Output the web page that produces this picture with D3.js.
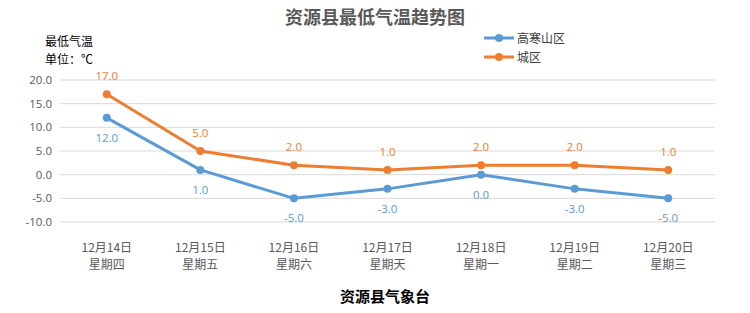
<!DOCTYPE html>
<html>
<head>
<meta charset="utf-8">
<script src="https://cdn.jsdelivr.net/npm/d3@7"></script>
<style>
body { margin: 0; background: #fff; }
svg { display: block; font-family: "Noto Sans CJK SC", "Open Sans", sans-serif; }
</style>
</head>
<body>
<div id="chart"></div>
<script>
var dates = ["12月14日", "12月15日", "12月16日", "12月17日", "12月18日", "12月19日", "12月20日"];
var weekdays = ["星期四", "星期五", "星期六", "星期天", "星期一", "星期二", "星期三"];
var mountain = [12, 1, -5, -3, 0, -3, -5];
var city = [17, 5, 2, 1, 2, 2, 1];
var yTicks = [20, 15, 10, 5, 0, -5, -10];

var width = 750, height = 313;
var blue = "#5b9bd5", orange = "#ed7d31";

var svg = d3.select("#chart").append("svg")
	.attr("width", width)
	.attr("height", height);

var x = d3.scaleBand().domain(dates).range([60, 715]);
var y = d3.scaleLinear().domain([-10, 20]).range([222, 80]);

// grid
svg.append("g").selectAll("line")
	.data(yTicks)
	.join("line")
	.attr("x1", 60)
	.attr("x2", 715)
	.attr("y1", function(d){ return y(d); })
	.attr("y2", function(d){ return y(d); })
	.attr("stroke", "#d9d9d9")
	.attr("stroke-width", 1);

// y ticks
svg.append("g").selectAll("text")
	.data(yTicks)
	.join("text")
	.attr("x", 52)
	.attr("y", function(d){ return y(d) + 4; })
	.attr("text-anchor", "end")
	.attr("font-size", 11.5)
	.attr("font-family", "Open Sans, sans-serif")
	.attr("fill", "#595959")
	.text(function(d){ return d.toFixed(1); });

// x labels
var xl = svg.append("g").selectAll("g")
	.data(dates)
	.join("g")
	.attr("transform", function(d){ return "translate(" + (x(d) + x.bandwidth()/2) + ",0)"; });
xl.append("text")
	.attr("y", 252)
	.attr("text-anchor", "middle")
	.attr("font-size", 12)
	.attr("fill", "#595959")
	.text(function(d){ return d; });
xl.append("text")
	.attr("y", 269)
	.attr("text-anchor", "middle")
	.attr("font-size", 12)
	.attr("fill", "#595959")
	.text(function(d, i){ return weekdays[i]; });

var cx = function(d, i){ return x(dates[i]) + x.bandwidth()/2; };
var line = d3.line().x(cx).y(function(d){ return y(d); });

//series
function drawSeries(vals, color, above) {
	svg.append("path")
		.datum(vals)
		.attr("d", line)
		.attr("fill", "none")
		.attr("stroke", color)
		.attr("stroke-width", 3)
		.attr("stroke-linejoin", "round");
	svg.append("g").selectAll("circle")
		.data(vals)
		.join("circle")
		.attr("cx", cx)
		.attr("cy", function(d){ return y(d); })
		.attr("r", 4)
		.attr("fill", color);
	svg.append("g").selectAll("text")
		.data(vals)
		.join("text")
		.attr("x", cx)
		.attr("y", function(d){ return above ? y(d) - 14 : y(d) + 24; })
		.attr("text-anchor", "middle")
		.attr("font-size", 11.5)
		.attr("font-family", "Open Sans, sans-serif")
		.attr("fill", color)
		.text(function(d){ return d.toFixed(1); });
}
drawSeries(mountain, blue, false);
drawSeries(city, orange, true);

// title
svg.append("text")
	.attr("x", 375)
	.attr("y", 24)
	.attr("text-anchor", "middle")
	.attr("font-size", 18)
	.attr("font-weight", "bold")
	.attr("fill", "#595959")
	.text("资源县最低气温趋势图");

svg.append("text")
	.attr("x", 45).attr("y", 46)
	.attr("font-size", 12)
	.attr("fill", "#000")
	.text("最低气温");
svg.append("text")
	.attr("x", 45).attr("y", 64)
	.attr("font-size", 12)
	.attr("fill", "#000")
	.text("单位：℃");

// legend
var legend = [["高寒山区", blue], ["城区", orange]];
var lg = svg.append("g").selectAll("g")
	.data(legend)
	.join("g")
	.attr("transform", function(d, i){ return "translate(484," + (38 + i * 19) + ")"; });
lg.append("line")
	.attr("x1", 0).attr("x2", 30)
	.attr("stroke", function(d){ return d[1]; })
	.attr("stroke-width", 3);
lg.append("circle")
	.attr("cx", 15).attr("r", 4)
	.attr("fill", function(d){ return d[1]; });
lg.append("text")
	.attr("x", 33).attr("y", 5)
	.attr("font-size", 12)
	.attr("fill", "#404040")
	.text(function(d){ return d[0]; });

// footer
svg.append("text")
	.attr("x", 385)
	.attr("y", 302)
	.attr("text-anchor", "middle")
	.attr("font-size", 15)
	.attr("font-weight", "bold")
	.attr("fill", "#000")
	.text("资源县气象台");
</script>
</body>
</html>
